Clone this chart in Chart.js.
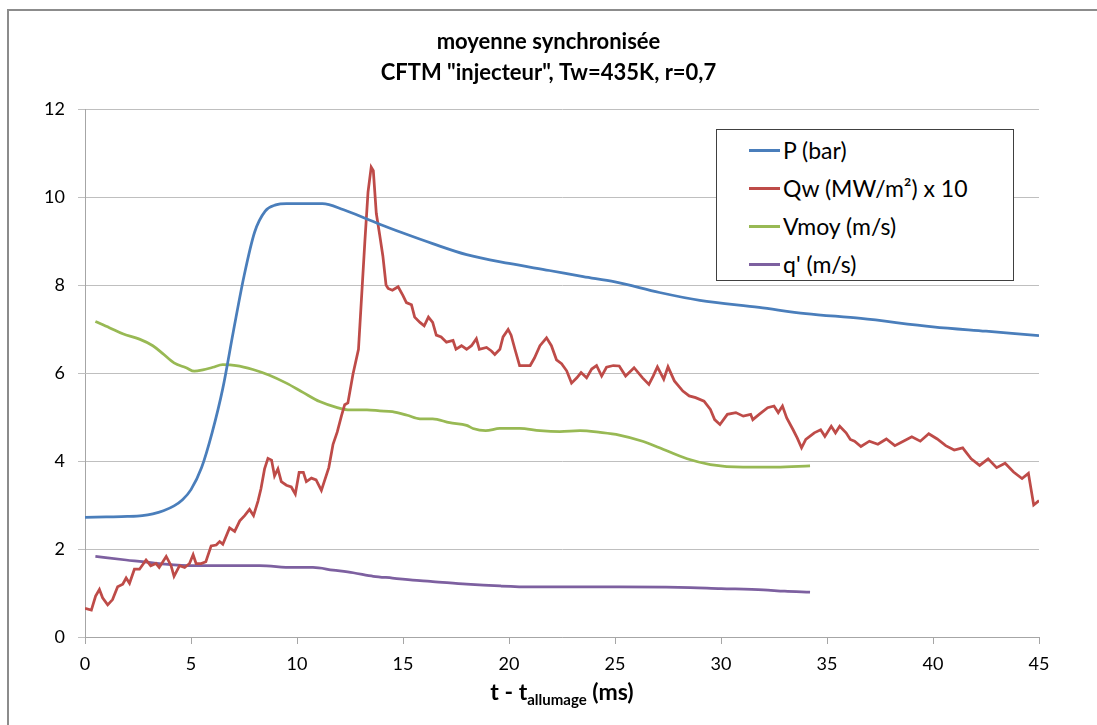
<!DOCTYPE html>
<html><head><meta charset="utf-8">
<script src="https://cdn.jsdelivr.net/npm/chart.js@4"></script>
<style>
html,body{margin:0;padding:0;background:#fff;width:1097px;height:725px;overflow:hidden}
#wrap{position:relative;width:1097px;height:725px}
#frame{position:absolute;left:7px;top:9px;width:1200px;height:800px;border:2px solid #8c8c8c;box-sizing:border-box;pointer-events:none}
canvas{position:absolute;left:0;top:0}
#legend{position:absolute;left:716px;top:129px;width:298px;height:152px;border:1px solid #404040;background:#fff;box-sizing:border-box;font-family:Lato,sans-serif;font-size:23px;color:#000}
.row{position:absolute;left:32px;height:30px;display:flex;align-items:center;white-space:nowrap}
.sw{width:31px;height:3px;margin-right:3px}
</style></head>
<body><div id="wrap"><canvas id="c" width="1097" height="725"></canvas><div id="frame"></div><div id="legend"></div></div>
<script>
const titleLines = ['moyenne synchronisée', 'CFTM "injecteur", Tw=435K, r=0,7'];
const xTicks = [0,5,10,15,20,25,30,35,40,45];
const yTicks = [0,2,4,6,8,10,12];
const seriesNames = ['P (bar)', 'Qw (MW/m²) x 10', 'Vmoy (m/s)', "q' (m/s)"];
const seriesColors = ['#4A7EBB', '#BE4B48', '#98B954', '#7D60A0'];

const pT = [0,1,2,2.7,3.2,3.7,4.2,4.6,5.0,5.5,6.0,6.5,7.0,7.5,8.0,8.5,9.0,9.5,10.1,11.2,12.2,13.3,13.9,15,16.4,18,20,21.9,23.5,25,27.1,29,31.8,34,36.6,40,42.5,45];
const pV = [2.72,2.73,2.74,2.76,2.80,2.87,2.98,3.12,3.35,3.85,4.65,5.65,6.95,8.2,9.2,9.68,9.82,9.85,9.85,9.85,9.71,9.50,9.38,9.18,8.94,8.69,8.49,8.33,8.19,8.07,7.83,7.65,7.49,7.35,7.24,7.05,6.95,6.85];

const qT = [0,0.3,0.5,0.68,0.83,1.07,1.3,1.54,1.78,1.94,2.1,2.33,2.57,2.88,3.1,3.35,3.5,3.83,4.06,4.2,4.46,4.7,4.93,5.1,5.24,5.48,5.7,5.95,6.19,6.35,6.5,6.82,7.06,7.3,7.53,7.76,7.95,8.16,8.3,8.47,8.63,8.8,8.94,9.1,9.26,9.5,9.73,9.92,10.1,10.3,10.44,10.68,10.9,11.15,11.5,11.7,11.9,12.1,12.25,12.4,12.64,12.9,13.04,13.2,13.35,13.5,13.6,13.74,13.9,14.05,14.2,14.3,14.5,14.77,15.0,15.16,15.4,15.55,15.8,16.0,16.2,16.4,16.57,16.8,17.05,17.36,17.5,17.76,18.0,18.23,18.46,18.6,18.94,19.17,19.33,19.57,19.72,19.96,20.1,20.28,20.5,20.75,21.0,21.2,21.46,21.77,22.0,22.24,22.48,22.72,22.95,23.2,23.4,23.66,23.9,24.13,24.37,24.6,24.92,25.2,25.5,25.9,26.3,26.6,26.8,27.0,27.3,27.5,27.8,28.2,28.5,28.8,29.2,29.5,29.7,29.95,30.3,30.7,31.05,31.4,31.5,31.8,32.2,32.5,32.7,32.9,33.1,33.4,33.6,33.8,34.0,34.4,34.7,34.9,35.2,35.4,35.6,35.9,36.1,36.3,36.6,37.0,37.4,37.8,38.2,38.6,39.0,39.4,39.8,40.2,40.6,41.0,41.4,41.8,42.2,42.6,43.0,43.4,43.8,44.2,44.5,44.75,45];
const qV = [0.65,0.61,0.93,1.08,0.89,0.73,0.85,1.14,1.20,1.34,1.22,1.54,1.54,1.75,1.62,1.67,1.58,1.83,1.62,1.38,1.62,1.58,1.67,1.87,1.67,1.67,1.71,2.07,2.09,2.17,2.11,2.48,2.40,2.64,2.76,2.90,2.76,3.09,3.37,3.82,4.06,4.02,3.66,3.82,3.53,3.45,3.41,3.25,3.74,3.74,3.53,3.61,3.57,3.33,3.85,4.38,4.66,5.03,5.28,5.32,5.97,6.54,7.68,8.98,10.11,10.68,10.60,9.63,9.14,8.66,8.00,7.92,7.88,7.96,7.76,7.60,7.55,7.27,7.15,7.07,7.27,7.15,6.86,6.82,6.70,6.74,6.54,6.62,6.54,6.62,6.78,6.54,6.58,6.50,6.42,6.54,6.82,6.99,6.86,6.54,6.17,6.17,6.17,6.34,6.62,6.80,6.62,6.30,6.21,6.05,5.77,5.89,6.01,5.89,6.09,6.17,5.93,6.13,6.17,6.16,5.93,6.12,5.89,5.74,5.93,6.14,5.86,6.14,5.82,5.59,5.48,5.44,5.36,5.17,4.94,4.83,5.06,5.10,5.02,5.06,4.94,5.06,5.21,5.25,5.10,5.25,4.98,4.71,4.52,4.30,4.49,4.64,4.71,4.56,4.79,4.64,4.79,4.64,4.49,4.45,4.33,4.45,4.38,4.50,4.35,4.45,4.55,4.45,4.62,4.50,4.35,4.25,4.30,4.05,3.90,4.05,3.85,3.95,3.75,3.60,3.72,3.00,3.10];

const vT = [0.49,1.15,1.78,2.57,3.2,3.67,4.2,4.77,5.16,5.56,6.03,6.5,7.13,7.92,8.7,9.5,10.28,11.07,11.86,12.5,13.3,13.9,14.5,15.2,15.8,16.4,17.2,18.0,18.3,18.9,19.57,20.5,21.46,22.4,23.35,24.3,25.2,26.3,27.1,28.4,29.5,31.05,32.6,34.2];
const vV = [7.17,7.03,6.89,6.77,6.62,6.44,6.23,6.12,6.04,6.07,6.13,6.19,6.17,6.08,5.95,5.77,5.56,5.35,5.22,5.16,5.16,5.14,5.12,5.04,4.96,4.96,4.87,4.81,4.74,4.69,4.74,4.74,4.69,4.67,4.69,4.65,4.59,4.45,4.30,4.05,3.92,3.86,3.86,3.89];

const sT = [0.49,1.94,3.5,5.1,6.66,8.24,9.8,10.75,11.7,12.65,13.6,14.5,15.8,16.4,18,19.57,21.1,23.5,25.2,28,30,32,33,34.2];
const sV = [1.83,1.75,1.67,1.62,1.62,1.62,1.58,1.58,1.52,1.46,1.38,1.34,1.28,1.26,1.20,1.16,1.14,1.14,1.14,1.13,1.10,1.07,1.04,1.02];

const seriesT = [pT, qT, vT, sT];
const seriesV = [pV, qV, vV, sV];
const smooth = [true, false, true, true];

const datasets = seriesNames.map((name, i) => ({
  label: name,
  data: seriesT[i].map((t, k) => ({x: t, y: seriesV[i][k]})),
  borderColor: seriesColors[i],
  backgroundColor: seriesColors[i],
  borderWidth: 2.75,
  pointRadius: 0,
  fill: false,
  yAxisID: 'y',
  tension: smooth[i] ? 0.4 : 0,
  cubicInterpolationMode: smooth[i] ? 'monotone' : 'default'
}));

const lg = document.getElementById('legend');
const rowsY = [20, 58, 96, 134];
seriesNames.forEach((n, i) => {
  const r = document.createElement('div');
  r.className = 'row';
  r.style.top = (rowsY[i] - 15) + 'px';
  const s = document.createElement('div');
  s.className = 'sw';
  s.style.background = seriesColors[i];
  const t = document.createElement('span');
  t.textContent = n;
  r.appendChild(s); r.appendChild(t);
  lg.appendChild(r);
});

const xTitlePlugin = {
  id: 'xTitle',
  afterDraw(chart) {
    const ctx = chart.ctx;
    const a = chart.chartArea;
    const p1 = 't - t', sub = 'allumage', p2 = ' (ms)';
    const fMain = 'bold 23px Lato', fSub = 'bold 15px Lato';
    ctx.save();
    ctx.fillStyle = '#000';
    ctx.textBaseline = 'alphabetic';
    ctx.font = fMain; const w1 = ctx.measureText(p1).width, w3 = ctx.measureText(p2).width;
    ctx.font = fSub; const w2 = ctx.measureText(sub).width;
    const total = w1 + w2 + w3;
    let x = (a.left + a.right) / 2 - total / 2;
    const y = 700;
    ctx.textAlign = 'left';
    ctx.font = fMain; ctx.fillText(p1, x, y); x += w1;
    ctx.font = fSub; ctx.fillText(sub, x, y + 5); x += w2;
    ctx.font = fMain; ctx.fillText(p2, x, y);
    ctx.restore();
  }
};

Chart.defaults.font.family = 'Lato';
Chart.defaults.color = '#000';
new Chart(document.getElementById('c'), {
  type: 'line',
  data: { datasets },
  options: {
    responsive: false,
    animation: false,
    devicePixelRatio: 1,
    layout: { padding: 0 },
    plugins: {
      legend: { display: false },
      tooltip: { enabled: false },
      title: {
        display: true,
        text: titleLines,
        color: '#000',
        font: { family: 'Lato', size: 22, weight: 'bold', lineHeight: 1.4 },
        padding: { top: 27, bottom: 20.4 }
      }
    },
    scales: {
      x: {
        type: 'linear', min: 0, max: 45,
        afterFit(s) { s.height = 88; },
        afterBuildTicks(s) { s.ticks = xTicks.map(v => ({ value: v })); },
        ticks: { font: { size: 18 }, padding: 9, maxRotation: 0, color: '#000' },
        grid: { drawOnChartArea: false, drawTicks: true, tickLength: 7, color: '#a6a6a6' },
        border: { display: true, color: '#a6a6a6', width: 1 }
      },
      y: {
        min: 0, max: 12,
        afterFit(s) { s.width = 85; },
        afterBuildTicks(s) { s.ticks = yTicks.map(v => ({ value: v })); },
        ticks: { font: { size: 18 }, padding: 13, color: '#000' },
        grid: { drawOnChartArea: true, drawTicks: true, tickLength: 7, color: '#bfbfbf' },
        border: { display: true, color: '#a6a6a6', width: 1 }
      },
      yRight: {
        position: 'right', min: 0, max: 12,
        afterFit(s) { s.width = 58; },
        ticks: { display: false },
        grid: { display: false, drawOnChartArea: false },
        border: { display: false }
      }
    }
  },
  plugins: [xTitlePlugin]
});
</script>
</body></html>
